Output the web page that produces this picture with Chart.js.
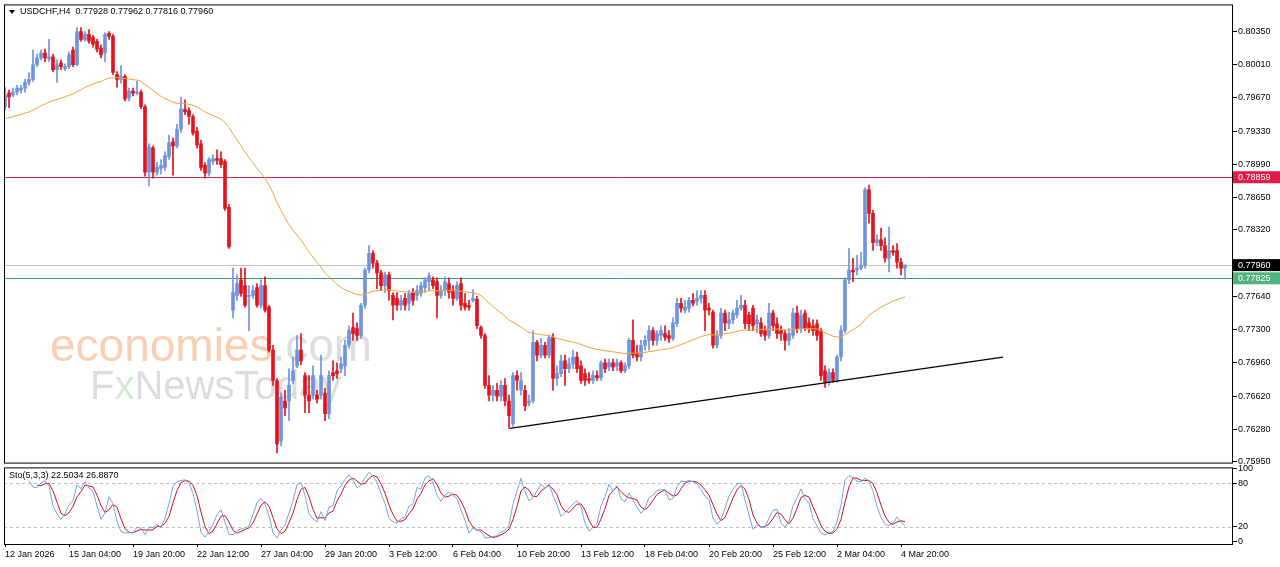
<!DOCTYPE html>
<html><head><meta charset="utf-8">
<script src="https://cdn.jsdelivr.net/npm/chart.js@4.4.1/dist/chart.umd.min.js"></script>
<style>
html,body{margin:0;padding:0;background:#fff;width:1280px;height:567px;overflow:hidden;}
#c1{position:absolute;left:0;top:-2px;}
#c2{position:absolute;left:0;top:461px;}
</style></head><body>
<canvas id="c1" width="1280" height="471"></canvas>
<canvas id="c2" width="1280" height="104"></canvas>
<script>
const opens=[0.7958,0.7972,0.7970,0.7973,0.7975,0.7977,0.7983,0.7986,0.8001,0.8008,
0.8013,0.8007,0.8009,0.7996,0.8003,0.7997,0.7999,0.8016,0.8001,0.8035,
0.8027,0.8032,0.8029,0.8025,0.8018,0.8013,0.8033,0.8030,0.7991,0.7986,
0.7989,0.7967,0.7974,0.7972,0.7973,0.7958,0.7891,0.7916,0.7891,0.7895,
0.7896,0.7907,0.7922,0.7918,0.7935,0.7955,0.7954,0.7948,0.7933,0.7920,
0.7898,0.7890,0.7902,0.7905,0.7905,0.7902,0.7855,0.7750,0.7765,0.7781,
0.7775,0.7764,0.7765,0.7773,0.7755,0.7775,0.7753,0.7709,0.7678,0.7616,
0.7657,0.7657,0.7678,0.7693,0.7709,0.7683,0.7663,0.7663,0.7663,0.7663,
0.7665,0.7644,0.7686,0.7688,0.7690,0.7693,0.7714,0.7732,0.7731,0.7724,
0.7755,0.7791,0.7808,0.7798,0.7788,0.7775,0.7786,0.7765,0.7762,0.7755,
0.7762,0.7757,0.7768,0.7765,0.7767,0.7773,0.7779,0.7781,0.7779,0.7765,
0.7770,0.7777,0.7770,0.7762,0.7777,0.7757,0.7755,0.7760,0.7761,0.7732,
0.7724,0.7673,0.7663,0.7668,0.7662,0.7673,0.7657,0.7634,0.7683,0.7668,
0.7668,0.7655,0.7657,0.7717,0.7704,0.7714,0.7704,0.7722,0.7680,0.7685,
0.7698,0.7690,0.7695,0.7702,0.7693,0.7685,0.7680,0.7678,0.7683,0.7681,
0.7696,0.7692,0.7696,0.7693,0.7696,0.7688,0.7693,0.7719,0.7706,0.7702,
0.7714,0.7719,0.7729,0.7719,0.7724,0.7726,0.7724,0.7721,0.7736,0.7757,
0.7750,0.7752,0.7760,0.7759,0.7762,0.7765,0.7752,0.7748,0.7714,0.7724,
0.7747,0.7736,0.7740,0.7745,0.7752,0.7755,0.7745,0.7752,0.7736,0.7737,
0.7729,0.7724,0.7747,0.7736,0.7729,0.7726,0.7719,0.7724,0.7747,0.7731,
0.7747,0.7737,0.7734,0.7736,0.7729,0.7688,0.7676,0.7686,0.7678,0.7702,
0.7729,0.7781,0.7791,0.7791,0.7793,0.7796,0.7873,0.7849,0.7819,0.7822,
0.7816,0.7803,0.7811,0.7811,0.7799,0.77928];
const closes=[0.7970,0.7968,0.7973,0.7977,0.7977,0.7983,0.7986,0.8001,0.8008,0.8013,
0.8008,0.8009,0.7996,0.8001,0.7999,0.7999,0.8011,0.8001,0.8035,0.8027,
0.8032,0.8025,0.8022,0.8017,0.8011,0.8032,0.8030,0.7993,0.7986,0.7989,
0.7966,0.7974,0.7972,0.7973,0.7958,0.7891,0.7917,0.7891,0.7896,0.7898,
0.7908,0.7921,0.7918,0.7935,0.7956,0.7953,0.7948,0.7931,0.7919,0.7896,
0.7890,0.7904,0.7905,0.7903,0.7899,0.7854,0.7815,0.7768,0.7777,0.7767,
0.7755,0.7765,0.7770,0.7755,0.7775,0.7750,0.7709,0.7678,0.7613,0.7661,
0.7650,0.7673,0.7688,0.7709,0.7698,0.7663,0.7657,0.7683,0.7659,0.7683,
0.7644,0.7683,0.7683,0.7685,0.7695,0.7714,0.7729,0.7726,0.7724,0.7755,
0.7791,0.7808,0.7798,0.7788,0.7775,0.7786,0.7770,0.7755,0.7755,0.7760,
0.7755,0.7767,0.7760,0.7770,0.7775,0.7781,0.7785,0.7775,0.7765,0.7770,
0.7779,0.7768,0.7762,0.7775,0.7755,0.7753,0.7753,0.7762,0.7734,0.7724,
0.7673,0.7663,0.7668,0.7662,0.7673,0.7657,0.7642,0.7683,0.7678,0.7678,
0.7652,0.7657,0.7717,0.7704,0.7714,0.7704,0.7722,0.7680,0.7685,0.7698,
0.7690,0.7695,0.7702,0.7690,0.7678,0.7678,0.7678,0.7683,0.7681,0.7696,
0.7690,0.7696,0.7692,0.7696,0.7688,0.7693,0.7719,0.7704,0.7702,0.7714,
0.7719,0.7729,0.7719,0.7726,0.7729,0.7722,0.7721,0.7737,0.7757,0.7752,
0.7753,0.7760,0.7757,0.7762,0.7765,0.7750,0.7750,0.7714,0.7724,0.7747,
0.7737,0.7740,0.7747,0.7752,0.7755,0.7736,0.7736,0.7734,0.7740,0.7726,
0.7724,0.7747,0.7734,0.7726,0.7726,0.7719,0.7726,0.7747,0.7731,0.7745,
0.7731,0.7731,0.7729,0.7724,0.7683,0.7676,0.7686,0.7678,0.7702,0.7729,
0.7781,0.7791,0.7789,0.7793,0.7796,0.7873,0.7849,0.7819,0.7822,0.7816,
0.7803,0.7811,0.7809,0.7799,0.7793,0.77960];
const highs=[0.7978,0.7975,0.7977,0.7980,0.7980,0.7986,0.7993,0.8016,0.8012,0.8016,
0.8017,0.8027,0.8012,0.8006,0.8006,0.8002,0.8014,0.8019,0.8039,0.8039,
0.8035,0.8037,0.8031,0.8027,0.8021,0.8034,0.8035,0.8032,0.7994,0.8000,
0.7991,0.7977,0.7977,0.7984,0.7975,0.7960,0.7920,0.7918,0.7901,0.7904,
0.7912,0.7929,0.7926,0.7940,0.7968,0.7965,0.7957,0.7950,0.7937,0.7924,
0.7901,0.7906,0.7909,0.7914,0.7912,0.7904,0.7858,0.7793,0.7786,0.7793,
0.7793,0.7775,0.7775,0.7777,0.7781,0.7784,0.7755,0.7714,0.7680,0.7665,
0.7668,0.7690,0.7702,0.7724,0.7726,0.7686,0.7683,0.7693,0.7668,0.7704,
0.7670,0.7688,0.7698,0.7696,0.7702,0.7719,0.7734,0.7747,0.7737,0.7757,
0.7793,0.7816,0.7811,0.7801,0.7791,0.7789,0.7789,0.7768,0.7768,0.7765,
0.7767,0.7770,0.7772,0.7775,0.7779,0.7783,0.7788,0.7784,0.7783,0.7775,
0.7784,0.7783,0.7775,0.7779,0.7783,0.7767,0.7760,0.7771,0.7764,0.7734,
0.7726,0.7683,0.7673,0.7675,0.7678,0.7680,0.7663,0.7686,0.7688,0.7686,
0.7673,0.7663,0.7729,0.7719,0.7721,0.7717,0.7724,0.7726,0.7693,0.7704,
0.7704,0.7701,0.7709,0.7707,0.7698,0.7690,0.7686,0.7688,0.7688,0.7698,
0.7700,0.7700,0.7700,0.7700,0.7698,0.7696,0.7721,0.7740,0.7714,0.7719,
0.7724,0.7734,0.7732,0.7729,0.7734,0.7734,0.7729,0.7742,0.7762,0.7762,
0.7760,0.7763,0.7767,0.7770,0.7770,0.7770,0.7757,0.7750,0.7729,0.7752,
0.7750,0.7748,0.7750,0.7760,0.7765,0.7760,0.7748,0.7755,0.7745,0.7742,
0.7734,0.7757,0.7750,0.7742,0.7734,0.7729,0.7731,0.7752,0.7754,0.7750,
0.7750,0.7742,0.7740,0.7740,0.7731,0.7693,0.7690,0.7690,0.7704,0.7734,
0.7783,0.7813,0.7803,0.7806,0.7809,0.7875,0.7878,0.7852,0.7827,0.7834,
0.7824,0.7835,0.7816,0.7818,0.7803,0.77962];
const lows=[0.7955,0.7957,0.7968,0.7970,0.7972,0.7973,0.7980,0.7984,0.7999,0.8006,
0.8004,0.8004,0.7994,0.7983,0.7996,0.7995,0.7997,0.7999,0.8000,0.8025,
0.8025,0.8023,0.8019,0.8014,0.8008,0.8004,0.8027,0.7991,0.7978,0.7982,
0.7964,0.7964,0.7969,0.7970,0.7956,0.7887,0.7877,0.7885,0.7888,0.7889,
0.7893,0.7904,0.7888,0.7916,0.7932,0.7950,0.7940,0.7929,0.7916,0.7893,
0.7885,0.7887,0.7899,0.7899,0.7896,0.7852,0.7813,0.7742,0.7760,0.7764,
0.7753,0.7729,0.7762,0.7753,0.7752,0.7748,0.7707,0.7673,0.7604,0.7611,
0.7642,0.7637,0.7675,0.7691,0.7694,0.7645,0.7645,0.7659,0.7655,0.7659,
0.7637,0.7639,0.7678,0.7680,0.7686,0.7683,0.7711,0.7719,0.7719,0.7721,
0.7752,0.7788,0.7793,0.7772,0.7770,0.7768,0.7760,0.7740,0.7750,0.7750,
0.7750,0.7750,0.7755,0.7760,0.7764,0.7768,0.7770,0.7772,0.7742,0.7762,
0.7765,0.7762,0.7755,0.7760,0.7750,0.7750,0.7750,0.7758,0.7731,0.7721,
0.7670,0.7657,0.7657,0.7657,0.7657,0.7652,0.7629,0.7631,0.7668,0.7663,
0.7647,0.7652,0.7655,0.7698,0.7701,0.7701,0.7701,0.7668,0.7673,0.7682,
0.7673,0.7686,0.7690,0.7686,0.7675,0.7673,0.7675,0.7675,0.7678,0.7678,
0.7686,0.7688,0.7688,0.7688,0.7686,0.7686,0.7690,0.7701,0.7698,0.7698,
0.7709,0.7709,0.7714,0.7714,0.7719,0.7719,0.7717,0.7719,0.7733,0.7748,
0.7747,0.7748,0.7754,0.7755,0.7757,0.7729,0.7745,0.7711,0.7711,0.7721,
0.7729,0.7731,0.7736,0.7742,0.7750,0.7731,0.7729,0.7729,0.7727,0.7723,
0.7719,0.7721,0.7729,0.7721,0.7719,0.7709,0.7714,0.7721,0.7727,0.7727,
0.7729,0.7727,0.7724,0.7719,0.7678,0.7671,0.7673,0.7676,0.7676,0.7698,
0.7727,0.7777,0.7779,0.7786,0.7791,0.7793,0.7839,0.7811,0.7816,0.7811,
0.7799,0.7789,0.7806,0.7793,0.7786,0.77816];
const timeLabels=["12 Jan 2026","15 Jan 04:00","19 Jan 20:00","22 Jan 12:00","27 Jan 04:00","29 Jan 20:00","3 Feb 12:00","6 Feb 04:00","10 Feb 20:00","13 Feb 12:00","18 Feb 04:00","20 Feb 20:00","25 Feb 12:00","2 Mar 04:00","4 Mar 20:00"];
const priceTicks=[0.80350,0.80010,0.79670,0.79330,0.78990,0.78650,0.78320,0.77640,0.77300,0.76960,0.76620,0.76280,0.75950];
const resistance=0.78859, support=0.77825, lastPrice=0.77960;
const trendStart={i:126.25,p:0.7629}, trendEnd={i:249.5,p:0.7702};
const maSeed=0.7945, maPeriod=50;
const stoTicks=[0,20,80,100];

const BLUE='#6f93dc', RED='#e3121c';
const n=closes.length;
const cols=closes.map((c,i)=>c>=opens[i]?BLUE:RED);
const wick=closes.map((c,i)=>({x:i,y:[lows[i],highs[i]]}));
const body=closes.map((c,i)=>({x:i,y:[Math.min(opens[i],c),Math.max(opens[i],c)]}));
const ma=[];let e=maSeed;const a=2/(maPeriod+1);
for(let i=0;i<n;i++){e=e+a*(closes[i]-e);ma.push({x:i,y:e});}
const num=[],den=[],K=[],D=[];
for(let i=0;i<n;i++){if(i>=4){let hh=-1,ll=9;for(let j=i-4;j<=i;j++){hh=Math.max(hh,highs[j]);ll=Math.min(ll,lows[j]);}num[i]=closes[i]-ll;den[i]=hh-ll;}}
for(let i=6;i<n;i++){const s=num[i]+num[i-1]+num[i-2],d=den[i]+den[i-1]+den[i-2];K.push({x:i,y:d>0?s/d*100:50});}
for(let k=2;k<K.length;k++){D.push({x:K[k].x,y:(K[k].y+K[k-1].y+K[k-2].y)/3});}

const FONT={family:'Liberation Sans',size:9};
Chart.defaults.font=FONT;Chart.defaults.color='#000';
const xCommon={type:'linear',min:-0.25,max:307,offset:false};

const mainPlugin={id:'mainp',
beforeDatasetsDraw(ch){const c=ch.ctx,ar=ch.chartArea;c.save();
 c.textBaseline='alphabetic';c.font='46px "Liberation Sans"';
 c.fillStyle='#f9cfb1';c.fillText('economies',50,363);const w=c.measureText('economies').width;
 c.fillStyle='#dedede';c.fillText('.com',50+w,363);
 c.font='40px "Liberation Sans"';c.fillStyle='#dcdcdc';c.fillText('F',90,401);
 const fw=c.measureText('F').width;c.fillStyle='#d5e8d5';c.fillText('x',90+fw,401);
 const xw=c.measureText('x').width;c.fillStyle='#dcdcdc';c.fillText('NewsToday',90+fw+xw,401);
 const y=ch.scales.y;
 const hl=(p,col)=>{const py=Math.round(y.getPixelForValue(p))+0.5;c.strokeStyle=col;c.lineWidth=1;c.beginPath();c.moveTo(ar.left,py);c.lineTo(ar.right,py);c.stroke();};
 hl(resistance,'#c8284e');hl(lastPrice,'#c0c0c0');hl(support,'#3c9c6a');
 c.restore();},
afterDraw(ch){const c=ch.ctx,ar=ch.chartArea,y=ch.scales.y;c.save();
 c.strokeStyle='#000';c.lineWidth=1;c.strokeRect(ar.left+0.5,ar.top+0.5,ar.right-ar.left-1,ar.bottom-ar.top);
 const box=(p,bg,txt)=>{const py=y.getPixelForValue(p);c.fillStyle=bg;c.fillRect(ar.right,py-6,47,12);c.fillStyle=txt;c.font='9px "Liberation Sans"';c.textBaseline='middle';c.fillText(p.toFixed(5),ar.right+5,py);};
 box(resistance,'#e21a48','#fff');box(lastPrice,'#000','#fff');box(support,'#4cb47c','#fff');
 c.fillStyle='#000';c.beginPath();c.moveTo(9,12);c.lineTo(15,12);c.lineTo(12,16);c.fill();
 c.font='9px "Liberation Sans"';c.textBaseline='middle';
 c.fillText('USDCHF,H4  0.77928 0.77962 0.77816 0.77960',20,14);
 c.restore();}};

new Chart(document.getElementById('c1'),{type:'bar',
data:{datasets:[
 {data:wick,backgroundColor:cols,barThickness:1,grouped:false,order:3},
 {data:body,backgroundColor:cols,barThickness:3,grouped:false,minBarLength:1,order:2},
 {type:'line',data:ma,borderColor:'#f0a43a',borderWidth:1,pointRadius:0,tension:0,order:1},
 {type:'line',data:[{x:trendStart.i,y:trendStart.p},{x:trendEnd.i,y:trendEnd.p}],borderColor:'#000',borderWidth:1.3,pointRadius:0,order:0}
]},
options:{responsive:false,animation:false,events:[],
 layout:{padding:{left:4,top:1,bottom:0,right:0}},
 plugins:{legend:{display:false},tooltip:{enabled:false}},
 scales:{x:{...xCommon,display:false},
  y:{position:'right',min:0.7594,max:0.80627,
   afterBuildTicks(s){s.ticks=priceTicks.map(v=>({value:v}));},
   afterFit(s){s.width=47;},
   grid:{drawOnChartArea:false,tickLength:4,color:'#000'},border:{display:false},
   ticks:{padding:1,callback:v=>v.toFixed(5),font:FONT,color:'#000'}}}},
plugins:[mainPlugin]});

const stoPlugin={id:'stop',
beforeDatasetsDraw(ch){const c=ch.ctx,ar=ch.chartArea,y=ch.scales.y;c.save();c.strokeStyle='#bdbdbd';c.setLineDash([3,3]);c.lineWidth=1;
 [20,80].forEach(v=>{const py=Math.round(y.getPixelForValue(v))+0.5;c.beginPath();c.moveTo(ar.left,py);c.lineTo(ar.right,py);c.stroke();});c.restore();},
afterDraw(ch){const c=ch.ctx,ar=ch.chartArea;c.save();c.strokeStyle='#000';c.lineWidth=1;
 c.strokeRect(ar.left+0.5,ar.top+0.5,ar.right-ar.left-1,ar.bottom-ar.top);
 c.fillStyle='#000';c.font='9px "Liberation Sans"';c.textBaseline='middle';c.fillText('Sto(5,3,3) 22.5034 26.8870',9,15);c.restore();}};

new Chart(document.getElementById('c2'),{type:'line',
data:{datasets:[
 {data:K,borderColor:'#74a4dc',borderWidth:1,pointRadius:0,tension:0},
 {data:D,borderColor:'#cc1024',borderWidth:1,pointRadius:0,tension:0}]},
options:{responsive:false,animation:false,events:[],
 layout:{padding:{left:4,top:3,bottom:3,right:0}},
 plugins:{legend:{display:false},tooltip:{enabled:false}},
 scales:{x:{...xCommon,position:'bottom',
   afterBuildTicks(s){s.ticks=timeLabels.map((t,k)=>({value:k*16}));},
   afterFit(s){s.height=18;},
   grid:{drawOnChartArea:false,tickLength:3,color:'#000',offset:false},border:{display:false},
   ticks:{autoSkip:false,maxRotation:0,minRotation:0,align:'start',padding:2,font:FONT,color:'#000',
     callback:(v)=>timeLabels[Math.round(v/16)]}},
  y:{position:'right',min:-4,max:102,
   afterBuildTicks(s){s.ticks=stoTicks.map(v=>({value:v}));},
   afterFit(s){s.width=47;},
   grid:{drawOnChartArea:false,tickLength:4,color:'#000'},border:{display:false},
   ticks:{padding:1,font:FONT,color:'#000'}}}},
plugins:[stoPlugin]});
</script></body></html>
